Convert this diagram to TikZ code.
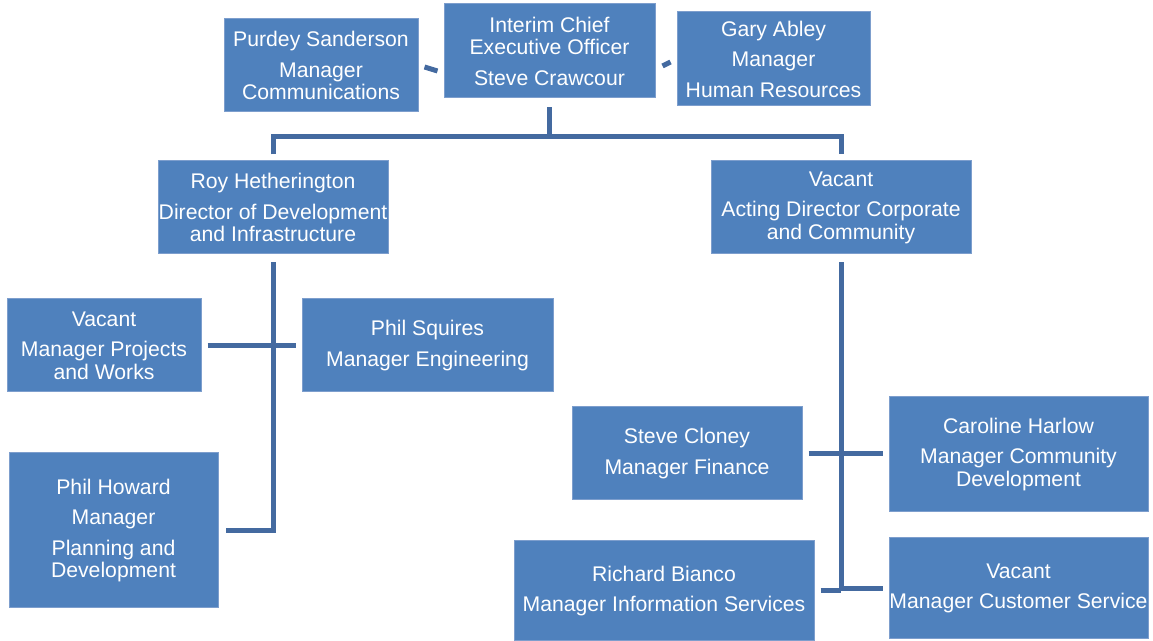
\documentclass[tikz,border=0pt]{standalone}
\usepackage{fontspec}
\setmainfont{Liberation Sans}
\definecolor{boxfill}{RGB}{79,129,189}
\definecolor{boxline}{RGB}{125,158,205}
\definecolor{linkcol}{RGB}{68,106,160}

\begin{document}
\begin{tikzpicture}[x=0.5pt,y=-0.5pt,
    box/.style={draw=boxline,line width=0.5pt,fill=boxfill,text=white,align=center,inner sep=0pt,
      font=\fontsize{10.6}{11.25}\selectfont,execute at begin node={\rule{0pt}{9.7pt}}},
    link/.style={draw=linkcol,line width=2.5pt}]
  \useasboundingbox (0,0) rectangle (1153,641);
  % top row
  \node[box,minimum width=105.5pt,minimum height=47pt] (ceo) at (549.5,51) {Interim Chief\\Executive Officer\\[4pt]Steve Crawcour};
  \node[box,minimum width=97pt,minimum height=46.5pt] (purdey) at (321,65.5) {Purdey Sanderson\\[4pt]Manager\\Communications};
  \node[box,minimum width=96.5pt,minimum height=47pt] (gary) at (773.5,59) {Gary Abley\\[4pt]Manager\\[4pt]Human Resources};
  % directors
  \node[box,minimum width=115pt,minimum height=46.5pt] (roy) at (273,207.5) {Roy Hetherington\\[4pt]Director of Development\\and Infrastructure};
  \node[box,minimum width=130pt,minimum height=46.5pt] (vacdir) at (841,207.5) {Vacant\\[4pt]Acting Director Corporate\\and Community};
  % managers, left
  \node[box,minimum width=97pt,minimum height=46.5pt] (vacproj) at (104,345.5) {Vacant\\[4pt]Manager Projects\\and Works};
  \node[box,minimum width=125.5pt,minimum height=46.5pt] (squires) at (427.5,345.5) {Phil Squires\\[4pt]Manager Engineering};
  \node[box,minimum width=104.5pt,minimum height=77.5pt] (howard) at (113.5,530.5) {Phil Howard\\[4pt]Manager\\[4pt]Planning and\\Development};
  % managers, right
  \node[box,minimum width=115pt,minimum height=46.5pt] (cloney) at (687,453.5) {Steve Cloney\\[4pt]Manager Finance};
  \node[box,minimum width=129.5pt,minimum height=57.5pt] (harlow) at (1018.5,454.5) {Caroline Harlow\\[4pt]Manager Community\\Development};
  \node[box,minimum width=150pt,minimum height=50pt] (bianco) at (664,591) {Richard Bianco\\[4pt]Manager Information Services};
  \node[box,minimum width=129.5pt,minimum height=50.5pt] (vaccs) at (1018.5,588.5) {Vacant\\[4pt]Manager Customer Service};
  % links
  \coordinate (bus) at (549.5,137);
  \draw[link] ([xshift=3pt,yshift=-0.75pt]purdey.east) -- ([xshift=-3pt,yshift=-2.75pt]purdey.east -| ceo.west);
  \draw[link] ([xshift=-3pt,yshift=-1.5pt]gary.west) -- ([xshift=3.5pt,yshift=-3.5pt]gary.west -| ceo.east);
  \draw[link,shorten <=4.5pt] (ceo.south) -- (bus);
  \draw[link,shorten <=3pt,shorten >=3pt] (roy.north) |- (bus) -| (vacdir.north);
  \draw[link,shorten <=4pt,shorten >=3.5pt] (roy.south) |- (howard.east);
  \draw[link,shorten <=3pt,shorten >=3pt] (vacproj.east) -- (squires.west);
  \draw[link,shorten <=4pt,shorten >=3pt] (vacdir.south) |- (vaccs.west);
  \draw[link,shorten <=3pt,shorten >=3pt] (cloney.east) -- (cloney.east -| harlow.west);
  \draw[link,shorten <=3pt] (bianco.east) -- (bianco.east -| vacdir.south);
\end{tikzpicture}
\end{document}
